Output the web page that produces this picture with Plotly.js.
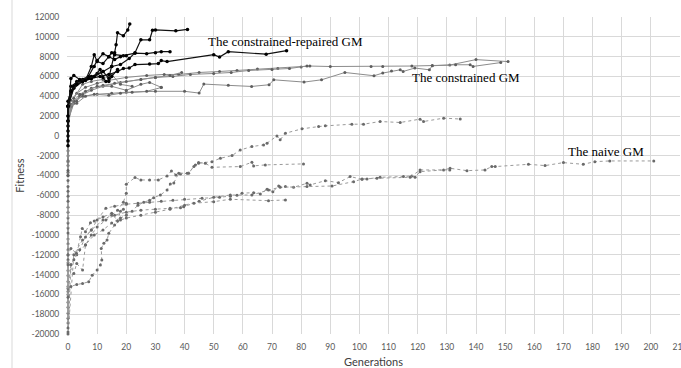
<!DOCTYPE html>
<html>
<head>
<meta charset="utf-8">
<script src="https://cdn.plot.ly/plotly-3.0.1.min.js"></script>
<style>html,body{margin:0;padding:0;background:#fff}#chart{width:681px;height:368px}</style>
</head>
<body>
<div id="chart"></div>
<script>
// ---- Data: The constrained-repaired GM (black solid) ----
const repairedX = [
  [0,0,0,1,3,5,8,10,12,14,15,16,16.5,17,19,20.5,21.2],
  [0,0,2,5,8,12,15,18,21,23,25,28,29,30,37,41],
  [0,0,1,4,7,9,10,12,14,15,16,19,23,27,30,32,35],
  [0,0,2,5,8,11,14,17,19,21,23,28,31,32,34,50,52,55,68,75],
  [0,0,1,3,5,7,9,11,12,13,14,15,17],
  [0,0,1,2,4,6,8,9,10,12,14,16,18,20]
];
const repairedY = [
  [-1000,1500,3500,4500,5500,5600,6000,6300,6500,5800,7000,8400,9200,10400,10100,10700,11300],
  [0,3000,5000,5500,5800,6500,7000,7200,7800,8400,9700,9700,10650,10700,10600,10750],
  [1000,3000,5000,5600,6000,7000,7600,8300,8000,8400,8200,8100,8350,8300,8400,8500,8500],
  [500,3000,4800,5500,5800,6000,6200,6500,6800,6850,7200,7250,7300,7600,7500,8200,7950,8500,8250,8600],
  [1500,3000,4500,5200,5700,5800,6000,6700,5900,5500,5500,6000,6700],
  [-500,2000,5800,6100,5700,5600,7000,8200,7500,7300,8000,7700,8000,8100]
];
// ---- Data: The constrained GM (grey solid) ----
const constrainedX = [
  [0,0,0,1,3,6,10,14,20,27,33,38,45,52,58,65,72,80,83,90,104,108,118,125,131,140,151],
  [0,0,0,2,4,8,12,18,25,30,36,42,50,56,62,70,76,82],
  [0,0,0,2,5,10,15,20,30,40,45,46.6,55,63,69,70.6,81,87,95,105,108,111,114,115,119,124,125,133,138,139,148.5],
  [0,0,1,3,5,8,12,16,20,25,30,35,39],
  [0,0,2,4,6,10,15,20,25,28,32],
  [0,0,1,3,6,9,14,18,22,27,32],
  [0,0,2,5,8,12,15,18,22]
];
const constrainedY = [
  [-3700,-2000,2000,3600,4300,4900,5300,5600,5900,6100,6200,6200,6400,6500,6600,6750,6800,6950,7050,7000,7000,7000,7050,7100,7150,7700,7500],
  [-3000,-600,1500,3300,4000,4600,5000,5400,5700,5900,6000,6200,6300,6400,6600,6700,6800,7050],
  [-1500,-2600,2000,3500,4000,4200,4300,4400,4500,4500,4320,5230,5100,4990,5160,5660,5430,5660,6400,6070,6340,6540,6670,6500,6850,6670,7080,7180,7180,7010,7400],
  [-4000,1000,3200,3500,4200,4800,5100,5300,5500,5700,5900,6100,6400],
  [-2500,1500,3500,4200,4500,5000,5000,4600,5200,5400,4900],
  [-3500,500,3000,3300,4000,4200,4100,4300,4400,4500,4880],
  [-1000,2000,3800,5200,5500,5700,6200,5200,5000]
];
// ---- Data: The naive GM (grey dotted) ----
const naiveX = [
  [0,0,0,0,0,0,2,5,8,12,15,17,19,20,20,23,25,28,31,34,35.5,37,38.6,41.4,43.2,44.8,49.4,52.3,56.3,59.1,63.1,67.1,68.3,71.7,72.8,74.6,80.3,86,88.3,97.4,101.4,107.1,114,120.8,122,128.9,134.6],
  [0,0,0,0,0,0,1,3,6,9,12,15,18,20,22,24,26,28,29.4,31.7,34,35.1,36.3,38,40.9,43.7,44.8,47.1,49.4,59.1,63.1,63.7,67.7,80.8],
  [0,0,0,0,0,0,1,2,4,6,8,10,13,16,20,24,28,32,36,40,46,52,55.7,58,59.7,63.7,66,68.3,70.3,72.3,74.6,77.4,82,83.1,88.3,92.8,96.8,100.9,102.6,107.1,115.1,118,119.1,120.8,128.9,131.1,136.9,143.1,145.4,146.6,158,163.7,170,176.8,180.8,185.9,201],
  [0,0,0,0,0,0,1,3,5,7.1,8.3,10,11.1,11.6,11.4,12.3,13.4,14,16,18,20,25,30,35,40,45,50,55.7,63.1,68.8,72.8,82,90.6,98,100.9,106,117.4,120.8,131],
  [0,0,0,0,0,0,2,3,5,6,8,10,13,16,20,25,30,35,38.6,39.7,43.2,50,55.7,68.8,74.6],
  [0,0,0,0,0,0,1,2.9,4.3,4.9,6,7.7,9,12,15,17,18,19,20]
];
const naiveY = [
  [-4000,-7200,-10400,-13600,-16800,-20000,-12000,-10500,-9500,-8500,-8000,-7500,-6700,-5800,-4880,-4210,-4450,-4450,-4450,-4040,-3540,-3940,-3840,-3770,-3100,-2760,-2600,-2260,-1990,-1420,-1080,-910,-740,0,-400,270,710,940,1010,1180,1180,1450,1350,1690,1450,1790,1700],
  [-4500,-7700,-10900,-14100,-17300,-19800,-13000,-12000,-11000,-10000,-9500,-8800,-8300,-8000,-7600,-7000,-6700,-6500,-6240,-5970,-5460,-4850,-4750,-3770,-3770,-2930,-2700,-2760,-3170,-3100,-2660,-3030,-2930,-2830],
  [-5100,-8300,-11500,-14700,-17900,-16000,-13000,-12500,-11500,-10200,-9500,-8500,-7300,-7100,-6900,-6800,-6700,-6600,-6500,-6400,-6300,-6200,-6100,-6000,-5790,-5730,-5860,-5390,-5630,-5060,-5120,-5190,-4790,-4950,-4520,-4720,-4110,-4380,-4350,-4180,-4110,-4040,-4180,-3610,-3440,-3270,-3510,-3440,-3100,-3100,-2870,-3000,-2700,-2870,-2600,-2530,-2530,-2530],
  [-5600,-8800,-12000,-15200,-18400,-15400,-15200,-15000,-14900,-14730,-14060,-13550,-13040,-12540,-11360,-10850,-10520,-9840,-9000,-8500,-8300,-8000,-7700,-7400,-7000,-6600,-6200,-5970,-5970,-5460,-5190,-5120,-5060,-4620,-4350,-4280,-4180,-3440,-3440],
  [-6100,-9300,-12500,-15700,-18900,-12810,-13890,-12880,-13550,-11020,-10000,-9200,-8500,-8000,-7700,-7500,-7400,-7300,-7250,-7150,-6800,-6640,-6400,-6540,-6470],
  [-6600,-9800,-13000,-16300,-19400,-12030,-11360,-11860,-10180,-9340,-9680,-8770,-8600,-8200,-7800,-8600,-7600,-7400,-6800]
];
// ---- Axis ticks & labels ----
const yTickVals = [-20000,-18000,-16000,-14000,-12000,-10000,-8000,-6000,-4000,-2000,0,2000,4000,6000,8000,10000,12000];
const yTickText = ["-20000","-18000","-16000","-14000","-12000","-10000","-8000","-6000","-4000","-2000","0","2000","4000","6000","8000","10000","12000"];
const xTickVals = [0,10,20,30,40,50,60,70,80,90,100,110,120,130,140,150,160,170,180,190,200,210];
const groupLabels = ["The constrained-repaired GM","The constrained GM","The naive GM"];

const traces = [];
naiveX.forEach((xs,i)=>traces.push({x:xs,y:naiveY[i],type:'scatter',mode:'lines+markers',cliponaxis:false,
  line:{color:'#9a9a9a',width:1,dash:'dot'},marker:{color:'#6a6a6a',size:3},hoverinfo:'skip'}));
constrainedX.forEach((xs,i)=>traces.push({x:xs,y:constrainedY[i],type:'scatter',mode:'lines+markers',cliponaxis:false,
  line:{color:'#8c8c8c',width:1},marker:{color:'#5e5e5e',size:3},hoverinfo:'skip'}));
repairedX.forEach((xs,i)=>traces.push({x:xs,y:repairedY[i],type:'scatter',mode:'lines+markers',cliponaxis:false,
  line:{color:'#111111',width:1.2},marker:{color:'#000000',size:3.5},hoverinfo:'skip'}));

const layout = {
  width:681,height:368,
  margin:{l:67,r:1,t:17,b:34},
  paper_bgcolor:'#ffffff',plot_bgcolor:'#ffffff',
  showlegend:false,
  font:{family:'Lato, Calibri, sans-serif',color:'#595959',size:8.5},
  xaxis:{range:[-0.343,210],tickmode:'array',tickvals:xTickVals,ticktext:xTickVals.map(String),
    showgrid:true,gridcolor:'#d9d9d9',gridwidth:1,zeroline:false,showline:false,
    ticks:'outside',ticklen:5,tickcolor:'rgba(0,0,0,0)',ticklabeloverflow:'allow',
    tickfont:{family:'Lato, sans-serif',size:8.5,color:'#595959'},
    title:{text:'Generations',font:{family:'Lato, sans-serif',size:11,color:'#404040'},standoff:7}},
  yaxis:{range:[-20000,12000],tickmode:'array',tickvals:yTickVals,ticktext:yTickText,
    showgrid:true,gridcolor:'#d9d9d9',gridwidth:1,zeroline:false,showline:false,
    ticks:'outside',ticklen:5,tickcolor:'rgba(0,0,0,0)',
    tickfont:{family:'Lato, sans-serif',size:8.5,color:'#595959'},
    title:{text:'Fitness',font:{family:'Lato, sans-serif',size:11,color:'#404040'},standoff:4}},
  shapes:[{type:'rect',xref:'paper',yref:'paper',
    x0:(12-67)/613,x1:(700-67)/613,y0:(351-400)/317,y1:(351-9)/317,
    line:{color:'#d9d9d9',width:1},fillcolor:'rgba(0,0,0,0)',layer:'below'}],
  annotations:[
    {text:groupLabels[0],x:47.5,y:9500,xref:'x',yref:'y',xanchor:'left',yanchor:'middle',showarrow:false,
      font:{family:'Liberation Serif, Times New Roman, serif',size:13,color:'#000'}},
    {text:groupLabels[1],x:117.5,y:5860,xref:'x',yref:'y',xanchor:'left',yanchor:'middle',showarrow:false,
      font:{family:'Liberation Serif, Times New Roman, serif',size:13,color:'#000'}},
    {text:groupLabels[2],x:171,y:-1620,xref:'x',yref:'y',xanchor:'left',yanchor:'middle',showarrow:false,
      font:{family:'Liberation Serif, Times New Roman, serif',size:13,color:'#000'}}
  ]
};
Plotly.newPlot('chart',traces,layout,{staticPlot:true,displayModeBar:false});
</script>
</body>
</html>
